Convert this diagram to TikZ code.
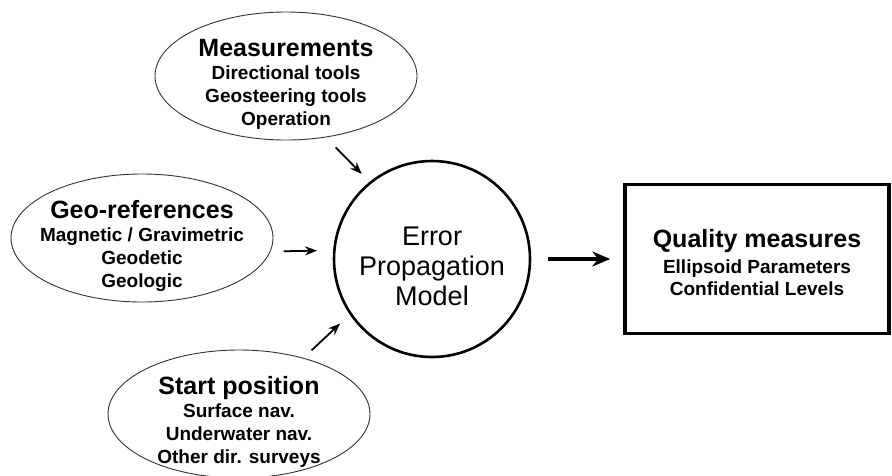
\documentclass[tikz,border=0pt]{standalone}
\usepackage{fontspec}
\setmainfont{Liberation Sans}
\usetikzlibrary{arrows.meta,shapes.geometric,positioning}

\newcommand{\hdline}[2][34pt]{{\fontsize{25}{28}\selectfont\bfseries\rule{0pt}{#1}#2}}

\begin{document}
\begin{tikzpicture}[
    x=1pt,y=-1pt,
    source/.style={ellipse,draw=black!80,line width=0.9pt,minimum width=262pt,minimum height=128pt,inner sep=-30pt,align=center,font=\fontsize{19}{23}\selectfont\bfseries},
    model/.style={circle,draw,line width=2.6pt,minimum size=196pt,inner sep=0pt,align=center,font=\fontsize{27}{30}\selectfont},
    result/.style={rectangle,draw,line width=3.5pt,minimum width=264pt,minimum height=149pt,align=center,font=\fontsize{19}{22}\selectfont\bfseries},
    arrow/.style={line width=1.8pt,-{Stealth[length=12pt,width=9pt]}},
    bigarrow/.style={line width=3.8pt,-{Stealth[length=18pt,width=15pt]}}
]
    \useasboundingbox (0,0) rectangle (892,475);

    \node[model] (epm) at (432,259) {\rule{0pt}{33pt}Error\\Propagation\\Model};
    \node[result] (qual) at (757,259) {\hdline[26pt]{Quality measures}\\[4pt]Ellipsoid Parameters\\Confidential Levels};

    \node[source] (meas) at (286,76) {\hdline{Measurements}\\Directional tools\\Geosteering tools\\Operation};
    \node[source] (geo) at (142,238) {\hdline{Geo-references}\\Magnetic / Gravimetric\\Geodetic\\Geologic};
    \node[source] (start) at (239,414) {\hdline{Start position}\\Surface nav.\\Underwater nav.\\Other dir. surveys};

    \draw[arrow,shorten <=14pt,shorten >=11pt] (meas.-57) -- (epm.129);
    \draw[arrow,shorten <=13pt,shorten >=16pt] (geo.-6) -- (epm.175);
    \draw[arrow,shorten <=11pt,shorten >=13pt] (start.41) -- (epm.214);
    \draw[bigarrow,shorten <=17pt,shorten >=13pt] (epm.east) -- (qual.west);
\end{tikzpicture}
\end{document}
